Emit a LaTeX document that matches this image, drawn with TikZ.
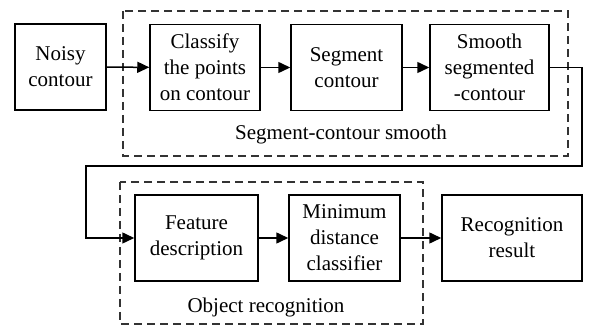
\documentclass[tikz,border=0pt]{standalone}
\usepackage{fontspec}
\setmainfont{Liberation Serif}
\usetikzlibrary{arrows.meta}

\begin{document}
\begin{tikzpicture}[x = 0.5pt, y = -0.5pt,
  font = \fontsize{10.5}{13}\selectfont,
  stage/.style = {draw, line width = 0.75pt, align = center, inner sep = 0pt,
    minimum height = 43pt},
  group/.style = {draw = black!80, line width = 0.6pt, dash pattern = on 4pt off 2.5pt},
  flow/.style = {-{Triangle[length = 6pt, width = 5.5pt]}, line width = 0.75pt}]
  \useasboundingbox (0, 0) rectangle (590, 326);

  % dashed groups
  \draw[group] (123, 11) rectangle (568, 156);
  \draw[group] (120, 182) rectangle (423, 324);
  \node[anchor = base] (smoothLabel) at (341, 140) {Segment-contour smooth};
  \node[anchor = base] (recogLabel) at (266, 313) {Object recognition};

  % stages
  \node[stage, minimum width = 45.5pt] (noisy) at (60.5, 67) {Noisy\\contour};
  \node[stage, minimum width = 55pt] (classify) at (205, 67.5) {Classify\\the points\\on contour};
  \node[stage, minimum width = 55.5pt] (segment) at (346.5, 67.5) {Segment\\contour};
  \node[stage, minimum width = 59.5pt] (smooth) at (489.5, 67.5) {Smooth\\segmented\\-contour};
  \node[stage, minimum width = 61.5pt] (feature) at (196.5, 238) {Feature\\description};
  \node[stage, minimum width = 55.5pt] (mindist) at (344.5, 238) {Minimum\\distance\\classifier};
  \node[stage, minimum width = 70pt] (result) at (512, 238) {Recognition\\result};

  \coordinate (bendA) at (582, 166);
  \coordinate (bendB) at (86, 166);

  \draw[flow] (noisy) -- (classify);
  \draw[flow] (classify) -- (segment);
  \draw[flow] (segment) -- (smooth);
  \draw[flow] (smooth.east) -| (bendA) -| (bendB) |- (feature.west);
  \draw[flow] (feature) -- (mindist);
  \draw[flow] (mindist) -- (result);
\end{tikzpicture}
\end{document}
